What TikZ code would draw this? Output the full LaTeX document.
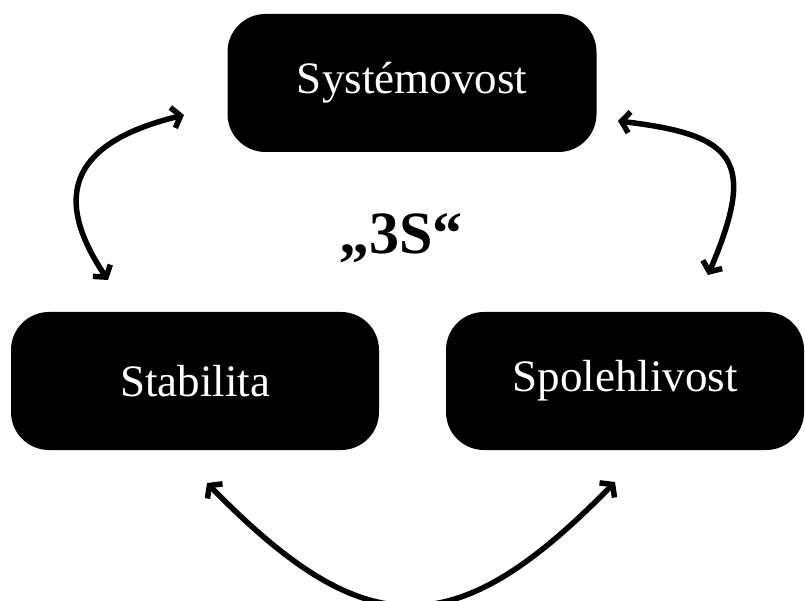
\documentclass[tikz,border=0pt]{standalone}
\usepackage{fontspec}
\setmainfont{Liberation Serif}
\usetikzlibrary{arrows.meta}
\tikzset{
  pillar/.style={fill=black,text=white,rounded corners=38pt,
    minimum width=368pt,minimum height=138pt,inner sep=0pt,
    font=\fontsize{45}{50}\selectfont},
  link/.style={line width=5.5pt,
    {Straight Barb[length=8pt,width=21pt]}-{Straight Barb[length=8pt,width=21pt]}}
}
\begin{document}
\begin{tikzpicture}[x=1pt,y=1pt]
    \useasboundingbox (0,0) rectangle (805,600);
    \node[pillar,minimum width=369pt] (sys) at (412,517) {Systémovost};
    \node[pillar] (stab) at (195,219) {Stabilita};
    \node[pillar,minimum width=358pt] (spol) at (625,219) {Spolehlivost};
    \node[font=\bfseries\fontsize{60}{62}\selectfont] (tri) at (401,362) {„3S“};
    % arrow ends, kept clear of the boxes
    \coordinate (stab-up) at (108,320);
    \coordinate (sys-left) at (184,485);
    \coordinate (sys-right) at (618,479);
    \coordinate (spol-up) at (708,325);
    \coordinate (stab-down) at (207,117);
    \coordinate (spol-down) at (615,118);
    \draw[link] (stab-up) .. controls (42,418) and (90,462) .. (sys-left);
    \draw[link] (sys-right) .. controls (736,465) and (757,440) .. (spol-up);
    \draw[link] (stab-down) .. controls (366,-46) and (456,-45) .. (spol-down);
  \end{tikzpicture}
\end{document}
